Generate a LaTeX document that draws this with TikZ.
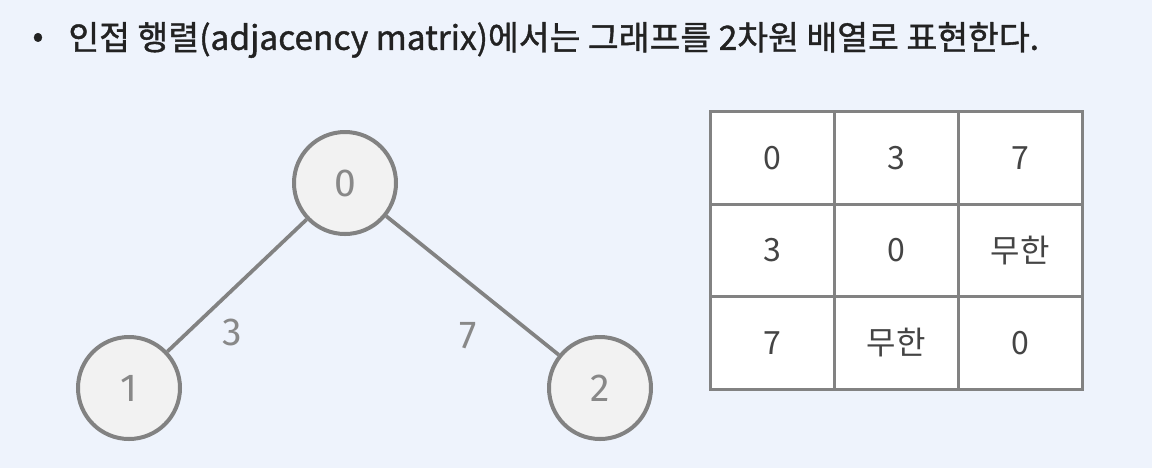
\documentclass[tikz,border=0pt]{standalone}
\usepackage{fontspec}
\setmainfont{Noto Sans CJK KR}
\newfontfamily\titlefont[FakeBold=1.2]{Noto Sans CJK KR}
\newfontfamily\numfont{Fira Sans}
\usetikzlibrary{positioning}

\definecolor{bgblue}{HTML}{EEF3FC}
\definecolor{linegray}{HTML}{828282}
\definecolor{nodefill}{HTML}{F2F2F2}
\definecolor{labelgray}{HTML}{888888}
\definecolor{celltext}{HTML}{444444}
\definecolor{titletext}{HTML}{222222}

\begin{document}
\begin{tikzpicture}[
                x=0.5pt, y=-0.5pt,
                vertex/.style={circle, draw=linegray, fill=nodefill, line width=2pt, minimum size=51pt, inner sep=0pt, text=labelgray, font=\numfont\fontsize{19.5}{22}\selectfont},
                weight/.style={text=labelgray, font=\numfont\fontsize{19.5}{22}\selectfont},
                edge/.style={draw=linegray, line width=1.85pt},
                cell/.style={draw=linegray, fill=white, line width=1.5pt, minimum width=62pt, minimum height=46.25pt, outer sep=0pt, inner sep=0pt, text=celltext, font=\fontsize{16}{19}\selectfont}
            ]

            % Background
            \fill[bgblue] (0,0) rectangle (1152,468);
            \useasboundingbox (0,0) rectangle (1152,468);

            % Title line
            \node[text=titletext, font=\titlefont\fontsize{16}{19}\selectfont] (bullet) at (38,40) {•};
            \node[anchor=west, text=titletext, font=\titlefont\fontsize{16.75}{20}\selectfont, inner sep=0pt] (title) at (68,40) {인접 행렬(adjacency matrix)에서는 그래프를 2차원 배열로 표현한다.};

            % Define nodes
            \node[vertex] (v0) at (345,183) {0};
            \node[vertex] (v1) at (129,388) {1};
            \node[vertex] (v2) at (600,388) {2};

            % Edges and weights
            \draw[edge] (v0) -- (v1);
            \draw[edge] (v0) -- (v2);
            \node[weight] (w01) at (232,332) {3};
            \node[weight] (w02) at (468,336) {7};

            % Adjacency matrix
            \node[cell] (c00) at (772,158) {0};
            \node[cell, right=0pt of c00] (c01) {3};
            \node[cell, right=0pt of c01] (c02) {7};
            \node[cell, below=0pt of c00] (c10) {3};
            \node[cell, right=0pt of c10] (c11) {0};
            \node[cell, right=0pt of c11] (c12) {무한};
            \node[cell, below=0pt of c10] (c20) {7};
            \node[cell, right=0pt of c20] (c21) {무한};
            \node[cell, right=0pt of c21] (c22) {0};

        \end{tikzpicture}
\end{document}
